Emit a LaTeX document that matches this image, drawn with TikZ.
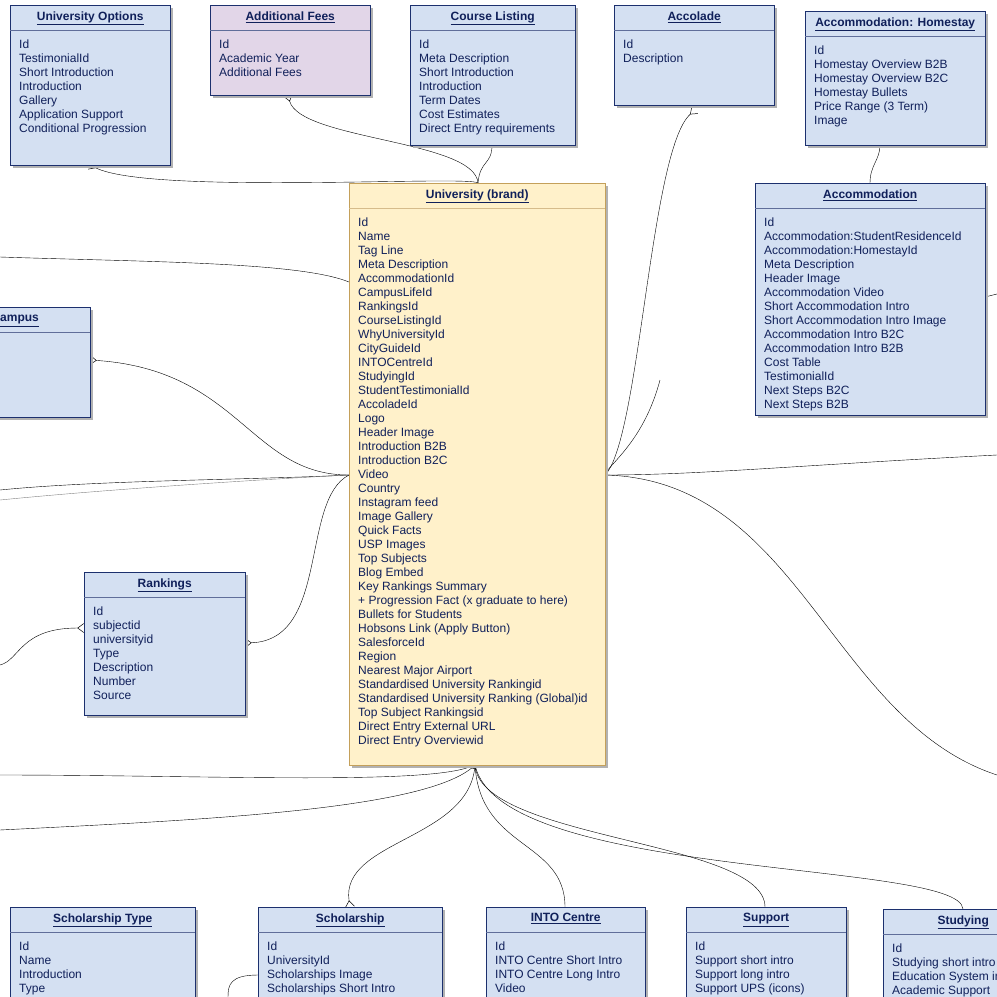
\documentclass[tikz,border=0pt]{standalone}
\usepackage{fontspec}
\setmainfont{Liberation Sans}
\usetikzlibrary{arrows.meta, calc}

\definecolor{boxblue}{RGB}{212,224,242}
\definecolor{edgeblue}{RGB}{28,48,110}
\definecolor{boxyellow}{RGB}{255,241,202}
\definecolor{edgeyellow}{RGB}{196,160,90}
\definecolor{boxpurple}{RGB}{226,214,232}
\definecolor{textblue}{RGB}{16,32,90}

\tikzset{
    entity/.style = {draw, rectangle, anchor = north west, inner sep = 0pt},
    title/.style = {font = \bfseries\fontsize{12}{14}\selectfont, text = textblue, anchor = north},
    attrs/.style = {font = \fontsize{12}{14}\selectfont, text = textblue, align = left,
        anchor = north west, inner sep = 0pt},
    link/.style = {black, thin},
    crow/.style = {-{Straight Barb[reversed, length = 6pt, width = 9pt, line width = 0.5pt]}}
}

% \entity{name}{x}{y}{w}{h}{fill}{edge}{title}{attributes}
\newcommand{\entity}[9]{
    \fill [gray!60] (#2 + 3, #3 + 3) rectangle ++(#4, #5);
    \node [entity, fill = #6, draw = #7, minimum width = #4pt, minimum height = #5pt]
        (#1) at (#2, #3) {};
    \node [title] (#1-t) at ($(#1.north) + (0, 3)$) {\underline{#8}};
    \draw [#7!70] ($(#1.north west) + (0, 25)$) -- ($(#1.north east) + (0, 25)$);
    \node [attrs] (#1-a) at ($(#1.north west) + (9, 35)$) {#9};
}

\begin{document}
\begin{tikzpicture}[x = 1pt, y = -1pt]
    \useasboundingbox [fill = white] (0, 0) rectangle (997, 997);
    \clip (0, 0) rectangle (997, 997);

% Connectors first, so that boxes sit on top of them.
    \coordinate (uniTop) at (478, 183);
    \coordinate (uniLeft) at (349, 475);
    \coordinate (uniRight) at (605, 475);
    \coordinate (uniBottom) at (475, 765);

    \draw [link, crow] (uniTop) .. controls (470, 175) and (150, 195) .. (90, 165);
    \draw [link, crow] (uniTop) .. controls (475, 140) and (300, 140) .. (288, 95);
    \draw [link] (uniTop) .. controls (480, 160) and (492, 165) .. (492, 145);
    \draw [link, crow] (uniRight) .. controls (640, 440) and (650, 150) .. (695, 110);
    \draw [link] (600, 488) .. controls (595, 470) and (640, 455) .. (660, 380);
    \draw [link] (870, 183) .. controls (870, 165) and (880, 160) .. (880, 145);
    \draw [link] (uniRight) .. controls (700, 475) and (800, 465) .. (997, 455);
    \draw [link] (uniRight) .. controls (800, 480) and (830, 720) .. (997, 775);
    \draw [link] (985, 297) -- (997, 294);

    \draw [link] (0, 257) .. controls (150, 262) and (300, 262) .. (349, 282);
    \draw [link, crow] (uniLeft) .. controls (250, 475) and (240, 370) .. (90, 360);
    \draw [link] (uniLeft) .. controls (250, 480) and (100, 480) .. (0, 490);
    \draw [link, gray] (uniLeft) .. controls (250, 480) and (100, 490) .. (0, 500);
    \draw [link, crow] (uniLeft) .. controls (300, 500) and (330, 640) .. (245, 643);
    \draw [link, crow] (0, 665) .. controls (20, 660) and (20, 628) .. (84, 628);

    \draw [link, crow] (0, 775) .. controls (200, 775) and (420, 785) .. (uniBottom);
    \draw [link] (0, 830) .. controls (200, 820) and (430, 810) .. (uniBottom);
    \draw [link, crow] (uniBottom) .. controls (470, 840) and (340, 840) .. (350, 907);
    \draw [link] (565, 907) .. controls (565, 840) and (480, 850) .. (uniBottom);
    \draw [link] (765, 907) .. controls (765, 840) and (480, 840) .. (uniBottom);
    \draw [link] (963, 909) .. controls (960, 860) and (500, 880) .. (uniBottom);
    \draw [link] (258, 975) .. controls (230, 975) and (228, 985) .. (228, 997);

% Entities
    \entity{uniOptions}{10}{5}{160}{160}{boxblue}{edgeblue}{University Options}
        {Id\\TestimonialId\\Short Introduction\\Introduction\\Gallery\\Application Support\\Conditional Progression}
    \entity{addFees}{210}{5}{160}{90}{boxpurple}{edgeblue}{Additional Fees}
        {Id\\Academic Year\\Additional Fees}
    \entity{courseListing}{410}{5}{165}{140}{boxblue}{edgeblue}{Course Listing}
        {Id\\Meta Description\\Short Introduction\\Introduction\\Term Dates\\Cost Estimates\\Direct Entry requirements}
    \entity{accolade}{614}{5}{160}{100}{boxblue}{edgeblue}{Accolade}
        {Id\\Description}
    \entity{homestay}{805}{11}{180}{134}{boxblue}{edgeblue}{Accommodation: Homestay}
        {Id\\Homestay Overview B2B\\Homestay Overview B2C\\Homestay Bullets\\Price Range (3 Term)\\Image}
    \entity{university}{349}{183}{256}{582}{boxyellow}{edgeyellow}{University (brand)}
        {Id\\Name\\Tag Line\\Meta Description\\AccommodationId\\CampusLifeId\\RankingsId\\CourseListingId\\WhyUniversityId\\CityGuideId\\INTOCentreId\\StudyingId\\StudentTestimonialId\\AccoladeId\\Logo\\Header Image\\Introduction B2B\\Introduction B2C\\Video\\Country\\Instagram feed\\Image Gallery\\Quick Facts\\USP Images\\Top Subjects\\Blog Embed\\Key Rankings Summary\\+ Progression Fact (x graduate to here)\\Bullets for Students\\Hobsons Link (Apply Button)\\SalesforceId\\Region\\Nearest Major Airport\\Standardised University Rankingid\\Standardised University Ranking (Global)id\\Top Subject Rankingsid\\Direct Entry External URL\\Direct Entry Overviewid}
    \entity{accommodation}{755}{183}{230}{232}{boxblue}{edgeblue}{Accommodation}
        {Id\\Accommodation:StudentResidenceId\\Accommodation:HomestayId\\Meta Description\\Header Image\\Accommodation Video\\Short Accommodation Intro\\Short Accommodation Intro Image\\Accommodation Intro B2C\\Accommodation Intro B2B\\Cost Table\\TestimonialId\\Next Steps B2C\\Next Steps B2B}
    \entity{campus}{-60}{307}{150}{110}{boxblue}{edgeblue}{Campus}{}
    \entity{rankings}{84}{572}{161}{143}{boxblue}{edgeblue}{Rankings}
        {Id\\subjectid\\universityid\\Type\\Description\\Number\\Source}
    \entity{scholarshipType}{10}{907}{185}{120}{boxblue}{edgeblue}{Scholarship Type}
        {Id\\Name\\Introduction\\Type}
    \entity{scholarship}{258}{907}{184}{120}{boxblue}{edgeblue}{Scholarship}
        {Id\\UniversityId\\Scholarships Image\\Scholarships Short Intro}
    \entity{intoCentre}{486}{907}{159}{120}{boxblue}{edgeblue}{INTO Centre}
        {Id\\INTO Centre Short Intro\\INTO Centre Long Intro\\Video}
    \entity{support}{686}{907}{160}{120}{boxblue}{edgeblue}{Support}
        {Id\\Support short intro\\Support long intro\\Support UPS (icons)}
    \entity{studying}{883}{909}{160}{120}{boxblue}{edgeblue}{Studying}
        {Id\\Studying short intro\\Education System in\\Academic Support}
\end{tikzpicture}
\end{document}
